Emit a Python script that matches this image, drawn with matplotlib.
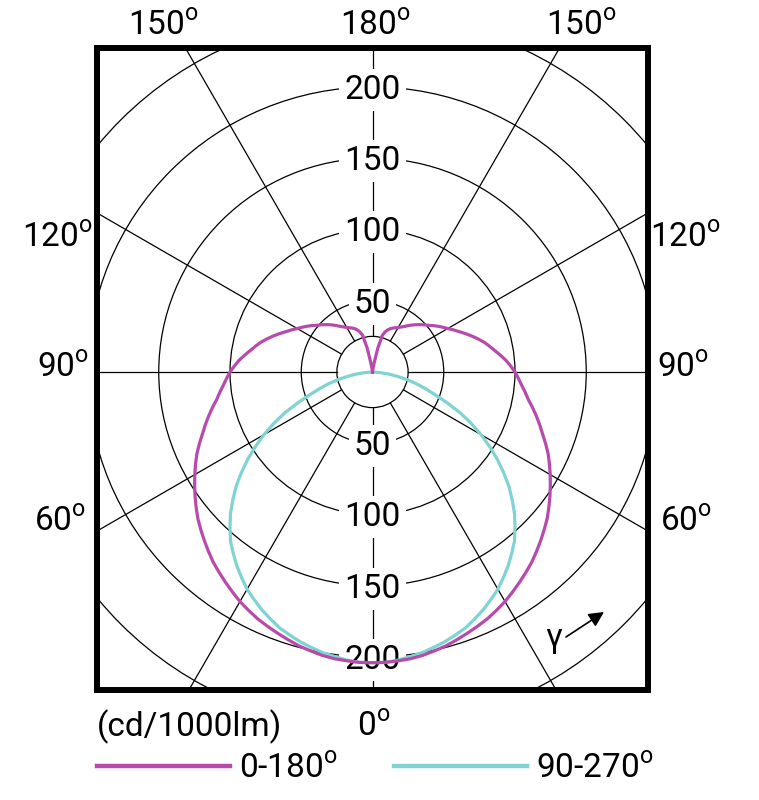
import numpy as np
import matplotlib
matplotlib.use("Agg")
import matplotlib.pyplot as plt
from matplotlib import font_manager
from matplotlib.patches import Circle

# luminous intensity (cd/1000lm) vs gamma angle; both planes are symmetric
gamma_c0 = np.arange(0, 180.1, 2.5)
c0_180 = [204, 204, 203.5, 203, 202, 200.5, 199, 197, 195, 193, 191, 188.5, 186, 183, 180, 177,
          174, 170.5, 167, 163.5, 160, 156, 152, 148, 144, 140, 136, 131.5, 127, 123, 119, 115,
          111, 108, 105, 102.5, 100, 97, 94, 90.5, 87, 84, 81, 77.5, 74, 70.5, 67, 64,
          61, 58.5, 56, 53.5, 51, 49, 47, 45, 43, 41, 39, 37.5, 36, 35, 34, 33,
          31.5, 29.5, 26.5, 17, 6, 1.5, 0, 0, 0]
gamma_c90 = np.arange(0, 90.1, 2.5)
c90_270 = [204, 204, 203, 201.5, 200, 198, 196, 193.5, 191, 187.5, 184, 180, 176, 171, 166, 160.5,
           155, 148, 141, 133, 125, 116, 107, 97.5, 88, 78, 68, 57, 47, 39, 32, 25,
           18, 12, 6, 2, 0]

rings = [25, 50, 100, 150, 200, 250]
ring_labels = [50, 100, 150, 200]
spokes = np.arange(0, 360, 30)

names = {f.name for f in font_manager.fontManager.ttflist}
fam = 'Roboto' if 'Roboto' in names else 'DejaVu Sans'
plt.rcParams['font.family'] = [fam, 'DejaVu Sans']
plt.rcParams['mathtext.fontset'] = 'custom'
plt.rcParams['mathtext.rm'] = fam

MAGENTA = '#b84aab'
CYAN = '#7fd3d3'
DEG = r'$^{\mathrm{o}}$'

S = 1.425            # pixels per cd unit
CX, CY = 372.5, 372  # pole in pixels

def px(x, y):
    return (x - CX) / S, (CY - y) / S

fig = plt.figure(figsize=(7.59, 8.0), dpi=100)
ax = fig.add_axes([97 / 759, 110 / 800, 551 / 759, 642 / 800])
ax.set_xlim(-275.5 / S, 275.5 / S)
ax.set_ylim(-318 / S, 324 / S)
ax.set_xticks([])
ax.set_yticks([])
for sp in ax.spines.values():
    sp.set_linewidth(4.3)
    sp.set_zorder(10)

# grid
for r in rings:
    ax.add_patch(Circle((0, 0), r, fill=False, color='black', lw=0.9, zorder=1))
for a in spokes:
    t = np.radians(a)
    ax.plot([25 * np.sin(t), 400 * np.sin(t)], [-25 * np.cos(t), -400 * np.cos(t)],
            color='black', lw=0.9, zorder=1)

for r in ring_labels:
    for sgn in (1, -1):
        ax.annotate(str(r), (0, sgn * r), xytext=(0, -8.6), textcoords='offset points',
                    ha='center', va='baseline', fontsize=24, zorder=3,
                    bbox=dict(boxstyle='square,pad=0.15', fc='white', ec='none'))

# curves, mirrored to both sides
for ang, vals, col, label in [(gamma_c90, c90_270, CYAN, '90-270' + DEG),
                              (gamma_c0, c0_180, MAGENTA, '0-180' + DEG)]:
    g = np.radians(ang)
    v = np.array(vals, dtype=float)
    gg = np.concatenate([-g[::-1], g[1:]])
    rr = np.concatenate([v[::-1], v[1:]])
    ax.plot(rr * np.sin(gg), -rr * np.cos(gg), color=col, lw=2.3, zorder=4, label=label)

# angle labels around the frame
angle_labels = [('150', 163, 35), ('180', 375, 35), ('150', 581, 35),
                ('120', 57, 247), ('120', 685, 247),
                ('90', 63, 377), ('90', 683, 377),
                ('60', 60, 531), ('60', 686, 531),
                ('0', 374, 736)]
for txt, x, y in angle_labels:
    ax.text(*px(x, y), txt + DEG, ha='center', va='baseline', fontsize=24)

ax.text(*px(97, 736), '(cd/1000lm)', ha='left', va='baseline', fontsize=24)

# gamma arrow
ax.text(*px(554, 647), 'γ', ha='center', va='baseline', fontsize=24, zorder=5)
ax.annotate('', xy=px(604, 612), xytext=px(566, 637),
            arrowprops=dict(arrowstyle='-|>,head_length=0.9,head_width=0.45',
                            color='black', lw=1.2, shrinkA=0, shrinkB=0), zorder=5)

h, l = ax.get_legend_handles_labels()
leg = fig.legend(h[::-1], l[::-1], loc='upper left', bbox_to_anchor=(97 / 759, 1 - 753 / 800),
                 ncol=2, frameon=False, fontsize=24, handlelength=4.0, handletextpad=0.25,
                 columnspacing=1.7, borderpad=0, borderaxespad=0)
for ln in leg.get_lines():
    ln.set_linewidth(3.2)

fig.savefig('out.png', dpi=100)
